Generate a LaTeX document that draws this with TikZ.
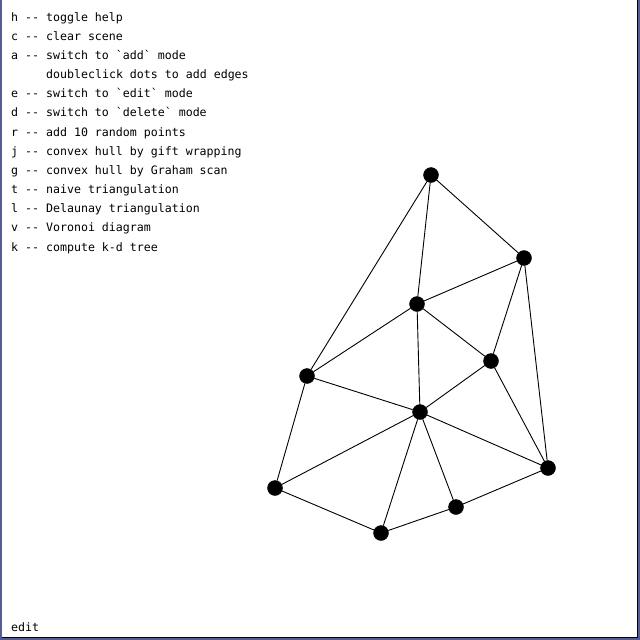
\documentclass[tikz,border=0pt]{standalone}
\usepackage{fontspec}
\usepackage{tikz}
\usetikzlibrary{positioning}
\setmonofont{DejaVu Sans Mono}
\definecolor{framecol}{RGB}{84,94,150}

\begin{document}
\begin{tikzpicture}[x=1pt, y=-1pt]
    \tikzset{
      dot/.style={draw, circle, fill=black, inner sep=0pt, minimum size=15pt},
      help/.style={inner sep=0pt, anchor=base west, font=\ttfamily\fontsize{11.6}{14}\selectfont},
      helpbelow/.style={help, below=19.17pt of #1.base west, anchor=base west},
      line/.style={draw, line width=0.9pt}
    }
    \useasboundingbox (0,0) rectangle (640,640);
    \fill [white] (0,0) rectangle (640,640);
    % window frame
    \fill [framecol] (0,0) rectangle (1.5,640);
    \fill [framecol] (638,0) rectangle (640,640);
    \fill [framecol] (0,638) rectangle (640,640);
    \draw [line width=1pt] (637.5,0) -- (637.5,637.5) -- (1.5,637.5);

    \node [help] (h) at (11,21) {h -- toggle help};
    \node [helpbelow=h] (c) {c -- clear scene};
    \node [helpbelow=c] (a) {a -- switch to `add` mode};
    \node [helpbelow=a, xshift=35pt] (dbl) {doubleclick dots to add edges};
    \node [help, below=38.34pt of a.base west, anchor=base west] (e) {e -- switch to `edit` mode};
    \node [helpbelow=e] (d) {d -- switch to `delete` mode};
    \node [helpbelow=d] (r) {r -- add 10 random points};
    \node [helpbelow=r] (j) {j -- convex hull by gift wrapping};
    \node [helpbelow=j] (g) {g -- convex hull by Graham scan};
    \node [helpbelow=g] (t) {t -- naive triangulation};
    \node [helpbelow=t] (l) {l -- Delaunay triangulation};
    \node [helpbelow=l] (v) {v -- Voronoi diagram};
    \node [helpbelow=v] (k) {k -- compute k-d tree};
    \node [help] (mode) at (11,631) {edit};

    \node [dot] (top) at (431,175) {};
    \node [dot] (rt) at (524,258) {};
    \node [dot] (mid) at (417,304) {};
    \node [dot] (rm) at (491,361) {};
    \node [dot] (lt) at (307,376) {};
    \node [dot] (hub) at (420,412) {};
    \node [dot] (rb) at (548,468) {};
    \node [dot] (lb) at (275,488) {};
    \node [dot] (bm) at (456,507) {};
    \node [dot] (bot) at (381,533) {};

    \path [line] (top)--(rt);
    \path [line] (top)--(mid);
    \path [line] (top)--(lt);
    \path [line] (rt)--(mid);
    \path [line] (rt)--(rm);
    \path [line] (rt)--(rb);
    \path [line] (mid)--(lt);
    \path [line] (mid)--(rm);
    \path [line] (mid)--(hub);
    \path [line] (rm)--(hub);
    \path [line] (rm)--(rb);
    \path [line] (lt)--(hub);
    \path [line] (lt)--(lb);
    \path [line] (hub)--(lb);
    \path [line] (hub)--(bot);
    \path [line] (hub)--(bm);
    \path [line] (hub)--(rb);
    \path [line] (lb)--(bot);
    \path [line] (bot)--(bm);
    \path [line] (bm)--(rb);
\end{tikzpicture}
\end{document}
